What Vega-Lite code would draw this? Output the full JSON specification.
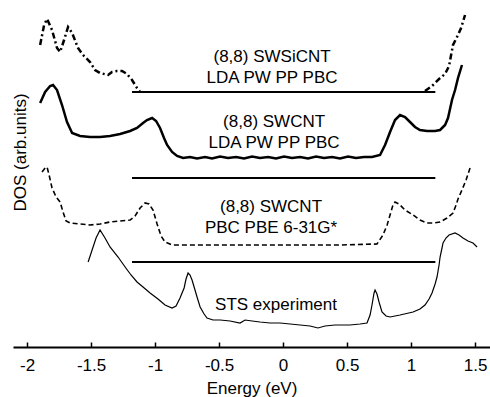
{
  "$schema": "https://vega.github.io/schema/vega-lite/v6.json",
  "width": 477,
  "height": 347,
  "autosize": {"type": "none"},
  "padding": {"left": 13, "top": 0, "right": 0, "bottom": 50},
  "background": "white",
  "config": {"view": {"stroke": null}, "font": "Liberation Sans"},
  "datasets": {
    "curves": [
      {"s": "SiCNT", "g": "a", "E": -1.898, "D": 30.2},
      {"s": "SiCNT", "g": "a", "E": -1.867, "D": 32.2},
      {"s": "SiCNT", "g": "a", "E": -1.844, "D": 32.8},
      {"s": "SiCNT", "g": "a", "E": -1.805, "D": 31.7},
      {"s": "SiCNT", "g": "a", "E": -1.766, "D": 29.9},
      {"s": "SiCNT", "g": "a", "E": -1.742, "D": 29.5},
      {"s": "SiCNT", "g": "a", "E": -1.711, "D": 30.7},
      {"s": "SiCNT", "g": "a", "E": -1.68, "D": 32.0},
      {"s": "SiCNT", "g": "a", "E": -1.648, "D": 31.4},
      {"s": "SiCNT", "g": "a", "E": -1.602, "D": 29.9},
      {"s": "SiCNT", "g": "a", "E": -1.563, "D": 29.2},
      {"s": "SiCNT", "g": "a", "E": -1.508, "D": 28.5},
      {"s": "SiCNT", "g": "a", "E": -1.469, "D": 27.7},
      {"s": "SiCNT", "g": "a", "E": -1.43, "D": 27.4},
      {"s": "SiCNT", "g": "a", "E": -1.367, "D": 27.2},
      {"s": "SiCNT", "g": "a", "E": -1.336, "D": 27.5},
      {"s": "SiCNT", "g": "a", "E": -1.297, "D": 27.6},
      {"s": "SiCNT", "g": "a", "E": -1.258, "D": 27.6},
      {"s": "SiCNT", "g": "a", "E": -1.219, "D": 27.3},
      {"s": "SiCNT", "g": "a", "E": -1.18, "D": 26.7},
      {"s": "SiCNT", "g": "a", "E": -1.141, "D": 25.9},
      {"s": "SiCNT", "g": "a", "E": -1.117, "D": 25.5},
      {"s": "SiCNT", "g": "b", "E": 1.109, "D": 25.6},
      {"s": "SiCNT", "g": "b", "E": 1.164, "D": 26.1},
      {"s": "SiCNT", "g": "b", "E": 1.227, "D": 26.9},
      {"s": "SiCNT", "g": "b", "E": 1.266, "D": 27.3},
      {"s": "SiCNT", "g": "b", "E": 1.297, "D": 28.1},
      {"s": "SiCNT", "g": "b", "E": 1.313, "D": 29.2},
      {"s": "SiCNT", "g": "b", "E": 1.328, "D": 30.2},
      {"s": "SiCNT", "g": "b", "E": 1.367, "D": 31.2},
      {"s": "SiCNT", "g": "b", "E": 1.391, "D": 31.9},
      {"s": "SiCNT", "g": "b", "E": 1.422, "D": 33.2},

      {"s": "LDA", "g": "a", "E": -1.898, "D": 24.4},
      {"s": "LDA", "g": "a", "E": -1.859, "D": 25.5},
      {"s": "LDA", "g": "a", "E": -1.82, "D": 26.1},
      {"s": "LDA", "g": "a", "E": -1.797, "D": 26.2},
      {"s": "LDA", "g": "a", "E": -1.766, "D": 25.7},
      {"s": "LDA", "g": "a", "E": -1.727, "D": 24.2},
      {"s": "LDA", "g": "a", "E": -1.688, "D": 22.5},
      {"s": "LDA", "g": "a", "E": -1.648, "D": 21.4},
      {"s": "LDA", "g": "a", "E": -1.586, "D": 21.1},
      {"s": "LDA", "g": "a", "E": -1.508, "D": 21.0},
      {"s": "LDA", "g": "a", "E": -1.43, "D": 21.0},
      {"s": "LDA", "g": "a", "E": -1.352, "D": 21.1},
      {"s": "LDA", "g": "a", "E": -1.273, "D": 21.3},
      {"s": "LDA", "g": "a", "E": -1.195, "D": 21.6},
      {"s": "LDA", "g": "a", "E": -1.141, "D": 21.9},
      {"s": "LDA", "g": "a", "E": -1.094, "D": 22.4},
      {"s": "LDA", "g": "a", "E": -1.063, "D": 22.7},
      {"s": "LDA", "g": "a", "E": -1.023, "D": 22.9},
      {"s": "LDA", "g": "a", "E": -0.992, "D": 22.6},
      {"s": "LDA", "g": "a", "E": -0.961, "D": 21.9},
      {"s": "LDA", "g": "a", "E": -0.93, "D": 20.9},
      {"s": "LDA", "g": "a", "E": -0.906, "D": 20.2},
      {"s": "LDA", "g": "a", "E": -0.867, "D": 19.5},
      {"s": "LDA", "g": "a", "E": -0.828, "D": 19.1},
      {"s": "LDA", "g": "a", "E": -0.781, "D": 18.9},
      {"s": "LDA", "g": "a", "E": -0.727, "D": 19.0},
      {"s": "LDA", "g": "a", "E": -0.672, "D": 18.85},
      {"s": "LDA", "g": "a", "E": -0.609, "D": 19.0},
      {"s": "LDA", "g": "a", "E": -0.555, "D": 18.85},
      {"s": "LDA", "g": "a", "E": -0.492, "D": 19.05},
      {"s": "LDA", "g": "a", "E": -0.43, "D": 18.9},
      {"s": "LDA", "g": "a", "E": -0.367, "D": 19.0},
      {"s": "LDA", "g": "a", "E": -0.305, "D": 18.85},
      {"s": "LDA", "g": "a", "E": -0.242, "D": 19.05},
      {"s": "LDA", "g": "a", "E": -0.18, "D": 18.9},
      {"s": "LDA", "g": "a", "E": -0.117, "D": 19.0},
      {"s": "LDA", "g": "a", "E": -0.055, "D": 18.85},
      {"s": "LDA", "g": "a", "E": 0.008, "D": 19.05},
      {"s": "LDA", "g": "a", "E": 0.07, "D": 18.9},
      {"s": "LDA", "g": "a", "E": 0.133, "D": 19.0},
      {"s": "LDA", "g": "a", "E": 0.195, "D": 18.85},
      {"s": "LDA", "g": "a", "E": 0.258, "D": 19.05},
      {"s": "LDA", "g": "a", "E": 0.32, "D": 18.9},
      {"s": "LDA", "g": "a", "E": 0.383, "D": 19.0},
      {"s": "LDA", "g": "a", "E": 0.445, "D": 18.85},
      {"s": "LDA", "g": "a", "E": 0.508, "D": 19.05},
      {"s": "LDA", "g": "a", "E": 0.57, "D": 18.9},
      {"s": "LDA", "g": "a", "E": 0.633, "D": 19.0},
      {"s": "LDA", "g": "a", "E": 0.695, "D": 19.0},
      {"s": "LDA", "g": "a", "E": 0.758, "D": 19.2},
      {"s": "LDA", "g": "a", "E": 0.797, "D": 20.2},
      {"s": "LDA", "g": "a", "E": 0.836, "D": 21.5},
      {"s": "LDA", "g": "a", "E": 0.875, "D": 22.7},
      {"s": "LDA", "g": "a", "E": 0.914, "D": 23.2},
      {"s": "LDA", "g": "a", "E": 0.953, "D": 23.0},
      {"s": "LDA", "g": "a", "E": 0.992, "D": 22.5},
      {"s": "LDA", "g": "a", "E": 1.031, "D": 22.0},
      {"s": "LDA", "g": "a", "E": 1.07, "D": 21.7},
      {"s": "LDA", "g": "a", "E": 1.125, "D": 21.6},
      {"s": "LDA", "g": "a", "E": 1.188, "D": 21.6},
      {"s": "LDA", "g": "a", "E": 1.227, "D": 21.7},
      {"s": "LDA", "g": "a", "E": 1.266, "D": 22.2},
      {"s": "LDA", "g": "a", "E": 1.289, "D": 22.9},
      {"s": "LDA", "g": "a", "E": 1.32, "D": 24.7},
      {"s": "LDA", "g": "a", "E": 1.344, "D": 25.7},
      {"s": "LDA", "g": "a", "E": 1.367, "D": 26.9},
      {"s": "LDA", "g": "a", "E": 1.398, "D": 28.2},

      {"s": "PBE", "g": "a", "E": -1.883, "D": 17.5},
      {"s": "PBE", "g": "a", "E": -1.859, "D": 17.9},
      {"s": "PBE", "g": "a", "E": -1.844, "D": 18.0},
      {"s": "PBE", "g": "a", "E": -1.828, "D": 17.2},
      {"s": "PBE", "g": "a", "E": -1.805, "D": 15.9},
      {"s": "PBE", "g": "a", "E": -1.773, "D": 15.0},
      {"s": "PBE", "g": "a", "E": -1.742, "D": 14.5},
      {"s": "PBE", "g": "a", "E": -1.719, "D": 13.5},
      {"s": "PBE", "g": "a", "E": -1.695, "D": 12.6},
      {"s": "PBE", "g": "a", "E": -1.664, "D": 12.4},
      {"s": "PBE", "g": "a", "E": -1.586, "D": 12.3},
      {"s": "PBE", "g": "a", "E": -1.508, "D": 12.2},
      {"s": "PBE", "g": "a", "E": -1.43, "D": 12.3},
      {"s": "PBE", "g": "a", "E": -1.352, "D": 12.5},
      {"s": "PBE", "g": "a", "E": -1.273, "D": 12.6},
      {"s": "PBE", "g": "a", "E": -1.195, "D": 12.7},
      {"s": "PBE", "g": "a", "E": -1.156, "D": 13.1},
      {"s": "PBE", "g": "a", "E": -1.117, "D": 13.9},
      {"s": "PBE", "g": "a", "E": -1.078, "D": 14.4},
      {"s": "PBE", "g": "a", "E": -1.047, "D": 14.3},
      {"s": "PBE", "g": "a", "E": -1.016, "D": 13.7},
      {"s": "PBE", "g": "a", "E": -0.984, "D": 12.3},
      {"s": "PBE", "g": "a", "E": -0.953, "D": 11.1},
      {"s": "PBE", "g": "a", "E": -0.922, "D": 10.5},
      {"s": "PBE", "g": "a", "E": -0.867, "D": 10.2},
      {"s": "PBE", "g": "a", "E": -0.805, "D": 10.2},
      {"s": "PBE", "g": "a", "E": -0.492, "D": 10.2},
      {"s": "PBE", "g": "a", "E": -0.18, "D": 10.2},
      {"s": "PBE", "g": "a", "E": 0.133, "D": 10.2},
      {"s": "PBE", "g": "a", "E": 0.445, "D": 10.2},
      {"s": "PBE", "g": "a", "E": 0.734, "D": 10.3},
      {"s": "PBE", "g": "a", "E": 0.781, "D": 11.2},
      {"s": "PBE", "g": "a", "E": 0.813, "D": 12.2},
      {"s": "PBE", "g": "a", "E": 0.836, "D": 13.2},
      {"s": "PBE", "g": "a", "E": 0.859, "D": 14.2},
      {"s": "PBE", "g": "a", "E": 0.875, "D": 14.5},
      {"s": "PBE", "g": "a", "E": 0.906, "D": 14.3},
      {"s": "PBE", "g": "a", "E": 0.953, "D": 13.7},
      {"s": "PBE", "g": "a", "E": 1.016, "D": 13.2},
      {"s": "PBE", "g": "a", "E": 1.07, "D": 12.7},
      {"s": "PBE", "g": "a", "E": 1.125, "D": 12.4},
      {"s": "PBE", "g": "a", "E": 1.18, "D": 12.4},
      {"s": "PBE", "g": "a", "E": 1.227, "D": 12.5},
      {"s": "PBE", "g": "a", "E": 1.281, "D": 12.9},
      {"s": "PBE", "g": "a", "E": 1.328, "D": 13.4},
      {"s": "PBE", "g": "a", "E": 1.352, "D": 14.2},
      {"s": "PBE", "g": "a", "E": 1.367, "D": 14.8},
      {"s": "PBE", "g": "a", "E": 1.398, "D": 15.7},
      {"s": "PBE", "g": "a", "E": 1.43, "D": 16.7},
      {"s": "PBE", "g": "a", "E": 1.461, "D": 17.9},

      {"s": "STS", "g": "a", "E": -1.523, "D": 8.5},
      {"s": "STS", "g": "a", "E": -1.492, "D": 9.7},
      {"s": "STS", "g": "a", "E": -1.461, "D": 10.9},
      {"s": "STS", "g": "a", "E": -1.43, "D": 11.7},
      {"s": "STS", "g": "a", "E": -1.391, "D": 10.9},
      {"s": "STS", "g": "a", "E": -1.352, "D": 10.0},
      {"s": "STS", "g": "a", "E": -1.289, "D": 9.0},
      {"s": "STS", "g": "a", "E": -1.234, "D": 8.0},
      {"s": "STS", "g": "a", "E": -1.188, "D": 7.2},
      {"s": "STS", "g": "a", "E": -1.141, "D": 6.5},
      {"s": "STS", "g": "a", "E": -1.094, "D": 6.0},
      {"s": "STS", "g": "a", "E": -1.039, "D": 5.4},
      {"s": "STS", "g": "a", "E": -0.977, "D": 4.8},
      {"s": "STS", "g": "a", "E": -0.922, "D": 4.2},
      {"s": "STS", "g": "a", "E": -0.867, "D": 3.9},
      {"s": "STS", "g": "a", "E": -0.836, "D": 4.1},
      {"s": "STS", "g": "a", "E": -0.805, "D": 4.9},
      {"s": "STS", "g": "a", "E": -0.773, "D": 5.9},
      {"s": "STS", "g": "a", "E": -0.758, "D": 6.8},
      {"s": "STS", "g": "a", "E": -0.742, "D": 7.4},
      {"s": "STS", "g": "a", "E": -0.727, "D": 7.2},
      {"s": "STS", "g": "a", "E": -0.711, "D": 6.7},
      {"s": "STS", "g": "a", "E": -0.688, "D": 5.7},
      {"s": "STS", "g": "a", "E": -0.672, "D": 5.0},
      {"s": "STS", "g": "a", "E": -0.648, "D": 4.0},
      {"s": "STS", "g": "a", "E": -0.617, "D": 3.3},
      {"s": "STS", "g": "a", "E": -0.594, "D": 2.9},
      {"s": "STS", "g": "a", "E": -0.547, "D": 2.7},
      {"s": "STS", "g": "a", "E": -0.492, "D": 2.7},
      {"s": "STS", "g": "a", "E": -0.414, "D": 2.6},
      {"s": "STS", "g": "a", "E": -0.336, "D": 2.4},
      {"s": "STS", "g": "a", "E": -0.297, "D": 2.7},
      {"s": "STS", "g": "a", "E": -0.242, "D": 2.6},
      {"s": "STS", "g": "a", "E": -0.18, "D": 2.5},
      {"s": "STS", "g": "a", "E": -0.102, "D": 2.4},
      {"s": "STS", "g": "a", "E": -0.023, "D": 2.4},
      {"s": "STS", "g": "a", "E": 0.055, "D": 2.3},
      {"s": "STS", "g": "a", "E": 0.133, "D": 2.2},
      {"s": "STS", "g": "a", "E": 0.211, "D": 2.1},
      {"s": "STS", "g": "a", "E": 0.273, "D": 1.9},
      {"s": "STS", "g": "a", "E": 0.328, "D": 2.1},
      {"s": "STS", "g": "a", "E": 0.406, "D": 2.2},
      {"s": "STS", "g": "a", "E": 0.523, "D": 2.2},
      {"s": "STS", "g": "a", "E": 0.602, "D": 2.3},
      {"s": "STS", "g": "a", "E": 0.656, "D": 2.4},
      {"s": "STS", "g": "a", "E": 0.68, "D": 3.2},
      {"s": "STS", "g": "a", "E": 0.695, "D": 4.2},
      {"s": "STS", "g": "a", "E": 0.711, "D": 5.4},
      {"s": "STS", "g": "a", "E": 0.719, "D": 5.7},
      {"s": "STS", "g": "a", "E": 0.734, "D": 5.3},
      {"s": "STS", "g": "a", "E": 0.75, "D": 4.5},
      {"s": "STS", "g": "a", "E": 0.773, "D": 3.5},
      {"s": "STS", "g": "a", "E": 0.805, "D": 3.1},
      {"s": "STS", "g": "a", "E": 0.836, "D": 3.0},
      {"s": "STS", "g": "a", "E": 0.914, "D": 3.2},
      {"s": "STS", "g": "a", "E": 1.016, "D": 3.5},
      {"s": "STS", "g": "a", "E": 1.07, "D": 3.8},
      {"s": "STS", "g": "a", "E": 1.109, "D": 4.2},
      {"s": "STS", "g": "a", "E": 1.141, "D": 4.8},
      {"s": "STS", "g": "a", "E": 1.164, "D": 5.4},
      {"s": "STS", "g": "a", "E": 1.188, "D": 6.3},
      {"s": "STS", "g": "a", "E": 1.203, "D": 7.0},
      {"s": "STS", "g": "a", "E": 1.219, "D": 8.2},
      {"s": "STS", "g": "a", "E": 1.227, "D": 9.0},
      {"s": "STS", "g": "a", "E": 1.242, "D": 9.9},
      {"s": "STS", "g": "a", "E": 1.25, "D": 10.4},
      {"s": "STS", "g": "a", "E": 1.273, "D": 10.9},
      {"s": "STS", "g": "a", "E": 1.297, "D": 11.2},
      {"s": "STS", "g": "a", "E": 1.344, "D": 11.4},
      {"s": "STS", "g": "a", "E": 1.375, "D": 11.2},
      {"s": "STS", "g": "a", "E": 1.406, "D": 10.9},
      {"s": "STS", "g": "a", "E": 1.445, "D": 10.6},
      {"s": "STS", "g": "a", "E": 1.484, "D": 10.4},
      {"s": "STS", "g": "a", "E": 1.516, "D": 10.0}
    ],
    "baselines": [
      {"x1": -1.18, "x2": 1.19, "D": 25.5},
      {"x1": -1.18, "x2": 1.19, "D": 16.9},
      {"x1": -1.18, "x2": 1.19, "D": 8.5}
    ],
    "labels": [
      {"E": -0.086, "D": 29.0, "t": "(8,8) SWSiCNT"},
      {"E": -0.086, "D": 26.9, "t": "LDA PW PP PBC"},
      {"E": -0.07, "D": 22.5, "t": "(8,8) SWCNT"},
      {"E": -0.07, "D": 20.4, "t": "LDA PW PP PBC"},
      {"E": -0.094, "D": 14.0, "t": "(8,8) SWCNT"},
      {"E": -0.094, "D": 11.9, "t": "PBC PBE 6-31G*"},
      {"E": -0.055, "D": 4.2, "t": "STS experiment"}
    ]
  },
  "encoding": {
    "x": {
      "field": "E", "type": "quantitative",
      "scale": {"domain": [-2.11, 1.617], "nice": false, "zero": false},
      "axis": {
        "title": "Energy (eV)",
        "values": [-2, -1.5, -1, -0.5, 0, 0.5, 1, 1.5],
        "labelExpr": "datum.value < 0 ? '-' + format(-datum.value, '~g') : format(datum.value, '~g')",
        "grid": false,
        "domainColor": "black", "domainWidth": 2,
        "tickColor": "black", "tickWidth": 1.5, "tickSize": -5,
        "labelFontSize": 17, "labelColor": "black", "labelFont": "Liberation Sans",
        "labelPadding": 15,
        "titleFontSize": 17, "titleFontWeight": "normal", "titleColor": "black", "titleFont": "Liberation Sans",
        "titlePadding": 7
      }
    },
    "y": {
      "field": "D", "type": "quantitative",
      "scale": {"domain": [0, 34.7], "nice": false, "zero": false},
      "axis": {
        "title": "DOS (arb.units)",
        "domain": false, "ticks": false, "labels": false, "grid": false,
        "titleX": 7, "titleY": 152, "titleAngle": -90,
        "titleAlign": "center", "titleBaseline": "middle",
        "titleFontSize": 17, "titleFontWeight": "normal", "titleColor": "black", "titleFont": "Liberation Sans"
      }
    }
  },
  "layer": [
    {
      "data": {"name": "baselines"},
      "mark": {"type": "rule", "color": "black", "strokeWidth": 2},
      "encoding": {
        "x": {"field": "x1", "type": "quantitative"},
        "x2": {"field": "x2"}
      }
    },
    {
      "data": {"name": "curves"},
      "transform": [{"filter": "datum.s == 'SiCNT'"}],
      "mark": {"type": "line", "color": "black", "strokeWidth": 2.5, "strokeDash": [6, 3, 2, 3]},
      "encoding": {"detail": {"field": "g"}}
    },
    {
      "data": {"name": "curves"},
      "transform": [{"filter": "datum.s == 'LDA'"}],
      "mark": {"type": "line", "color": "black", "strokeWidth": 2.5},
      "encoding": {"detail": {"field": "g"}}
    },
    {
      "data": {"name": "curves"},
      "transform": [{"filter": "datum.s == 'PBE'"}],
      "mark": {"type": "line", "color": "black", "strokeWidth": 1.6, "strokeDash": [5, 3]},
      "encoding": {"detail": {"field": "g"}}
    },
    {
      "data": {"name": "curves"},
      "transform": [{"filter": "datum.s == 'STS'"}],
      "mark": {"type": "line", "color": "black", "strokeWidth": 1.2},
      "encoding": {"detail": {"field": "g"}}
    },
    {
      "data": {"name": "labels"},
      "mark": {"type": "text", "fontSize": 17, "font": "Liberation Sans", "align": "center", "baseline": "middle", "color": "black"},
      "encoding": {"text": {"field": "t"}}
    }
  ]
}
